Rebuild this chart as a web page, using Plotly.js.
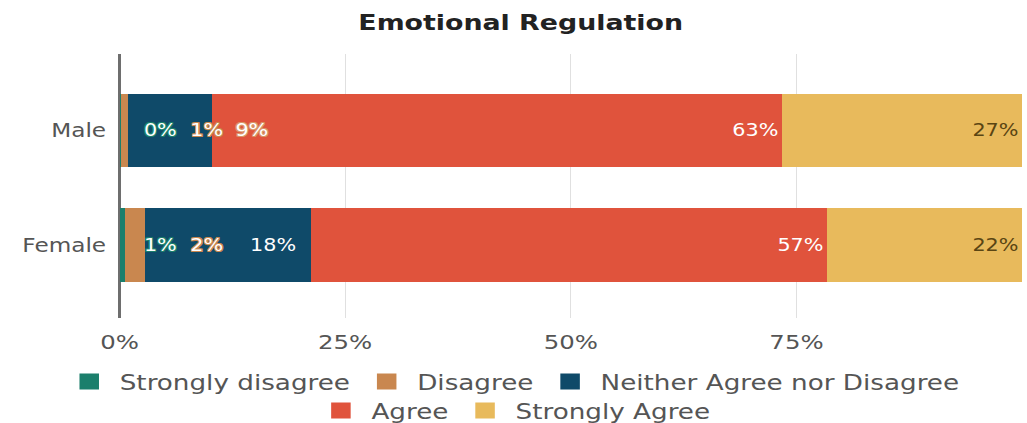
<!DOCTYPE html>
<html><head><meta charset="utf-8">
<script src="https://cdn.plot.ly/plotly-3.0.1.min.js"></script>
<style>
html,body{margin:0;padding:0;overflow:hidden;background:#fff}
#chart{width:842px;height:423px;transform:scaleX(1.2197);transform-origin:0 0;}
</style>
</head><body><div id="chart"></div>
<script>
// ---- data ----
const categories = ['Male', 'Female'];
const seriesNames = ['Strongly disagree', 'Disagree', 'Neither Agree nor Disagree', 'Agree', 'Strongly Agree'];
const stronglyDisagree = [0.2, 0.6];
const disagree = [0.7, 2.2];
const neither = [9.3, 18.4];
const agree = [63.2, 57.2];
const stronglyAgree = [26.6, 21.6];
const xTickVals = [0, 25, 50, 75, 100];
const xTickText = ['0%', '25%', '50%', '75%', ''];

// ---- styles ----
const colors = ['#1b7f6c', '#c9874f', '#0f4a69', '#e0533c', '#e8ba5c'];
const FONT = 'DejaVu Sans, Verdana, sans-serif';
const W = 842, H = 423, ML = 98, MR = 4, MT = 54, MB = 105;
const plotW = W - ML - MR;
const pxPerUnit = plotW / 100;
const LABEL_SIZE = 17;

const series = [stronglyDisagree, disagree, neither, agree, stronglyAgree];

const traces = [];
series.forEach((vals, i) => {
  const t = {
    type: 'bar', orientation: 'h', name: seriesNames[i],
    y: categories, x: vals,
    marker: {color: colors[i], line: {width: 0}},
    showlegend: false, hoverinfo: 'name+x',
    textposition: 'none', cliponaxis: false
  };
  if (i >= 3) {
    t.texttemplate = '%{x:.0f}%';
    t.textposition = 'inside';
    t.insidetextanchor = 'end';
    t.constraintext = 'none';
    t.textfont = {family: FONT, size: LABEL_SIZE, color: i === 3 ? '#ffffff' : '#5a4513'};
  }
  traces.push(t);
});
// legend-only entries with larger square swatches (two centred rows)
seriesNames.forEach((n, i) => {
  traces.push({
    type: 'scatter', mode: 'markers', name: n, x: [null], y: [null],
    marker: {symbol: 'square', size: 16, color: colors[i]},
    showlegend: true, hoverinfo: 'skip',
    legend: i < 3 ? 'legend' : 'legend2'
  });
});

// measure text width
const cv = document.createElement('canvas').getContext('2d');
cv.font = LABEL_SIZE + 'px "DejaVu Sans"';
function tw(s) { return cv.measureText(s).width; }
function outline(c) {
  return `-1px -1px 0 ${c}, 1px -1px 0 ${c}, -1px 1px 0 ${c}, 1px 1px 0 ${c}, 0 1px 0 ${c}, 0 -1px 0 ${c}, 1px 0 0 ${c}, -1px 0 0 ${c}`;
}

const annotations = [];
categories.forEach((cat, c) => {
  const small = [stronglyDisagree[c], disagree[c]];
  let prevRight = 0;
  small.forEach((v, i) => {
    const txt = Math.round(v) + '%';
    const leftPx = 18 + 38 * i;
    annotations.push({
      x: leftPx / pxPerUnit, y: cat, xref: 'x', yref: 'y', xanchor: 'left', yanchor: 'middle',
      text: txt, showarrow: false,
      font: {family: FONT, size: LABEL_SIZE, color: '#ffffff', shadow: outline(colors[i])}
    });
    prevRight = leftPx + tw(txt);
  });
  const nTxt = Math.round(neither[c]) + '%';
  const endN = stronglyDisagree[c] + disagree[c] + neither[c];
  const rightPx = endN * pxPerUnit - 10;
  const leftPx = rightPx - tw(nTxt);
  if (leftPx < prevRight + 10) {
    annotations.push({
      x: (prevRight + 10) / pxPerUnit, y: cat, xref: 'x', yref: 'y', xanchor: 'left', yanchor: 'middle',
      text: nTxt, showarrow: false,
      font: {family: FONT, size: LABEL_SIZE, color: '#ffffff', shadow: outline('#d99466')}
    });
  } else {
    annotations.push({
      x: endN, xshift: -10, y: cat, xref: 'x', yref: 'y', xanchor: 'right', yanchor: 'middle',
      text: nTxt, showarrow: false,
      font: {family: FONT, size: LABEL_SIZE, color: '#ffffff'}
    });
  }
});

const legendBase = {
  orientation: 'h', xref: 'container', xanchor: 'center', yref: 'container', yanchor: 'top',
  font: {family: FONT, size: 21.5, color: '#555'}, traceorder: 'normal',
  bgcolor: 'rgba(0,0,0,0)', borderwidth: 0, itemwidth: 40
};

const layout = {
  width: W, height: H,
  margin: {l: ML, r: MR, t: MT, b: MB, pad: 0},
  paper_bgcolor: '#ffffff', plot_bgcolor: '#ffffff',
  barmode: 'stack', bargap: 0.354,
  font: {family: FONT, color: '#555'},
  title: {
    text: 'Emotional Regulation', x: 0.507, xref: 'container', xanchor: 'center',
    y: 1 - 22 / H, yref: 'container', yanchor: 'middle',
    font: {family: FONT, size: 22, weight: 'bold', color: '#222'}
  },
  xaxis: {
    range: [0, 100], tickvals: xTickVals, ticktext: xTickText,
    showgrid: true, gridcolor: '#e0e0e0', gridwidth: 1,
    zeroline: true, zerolinecolor: '#6e6e6e', zerolinewidth: 2,
    showline: false, ticks: '', ticklabelstandoff: 10,
    tickfont: {family: FONT, size: 20, color: '#555'}, fixedrange: true
  },
  yaxis: {
    type: 'category', categoryorder: 'array', categoryarray: ['Female', 'Male'],
    range: [-0.638, 1.668], showgrid: false, zeroline: false, showline: false,
    ticks: '', ticklabelstandoff: 10,
    tickfont: {family: FONT, size: 19, color: '#555'}, fixedrange: true
  },
  legend: Object.assign({}, legendBase, {x: 0.499, y: 1 - 361 / H}),
  legend2: Object.assign({}, legendBase, {x: 0.500, y: 1 - 390 / H}),
  annotations: annotations,
  showlegend: true
};

Plotly.newPlot('chart', traces, layout, {displayModeBar: false, staticPlot: true});
</script>
</body></html>
